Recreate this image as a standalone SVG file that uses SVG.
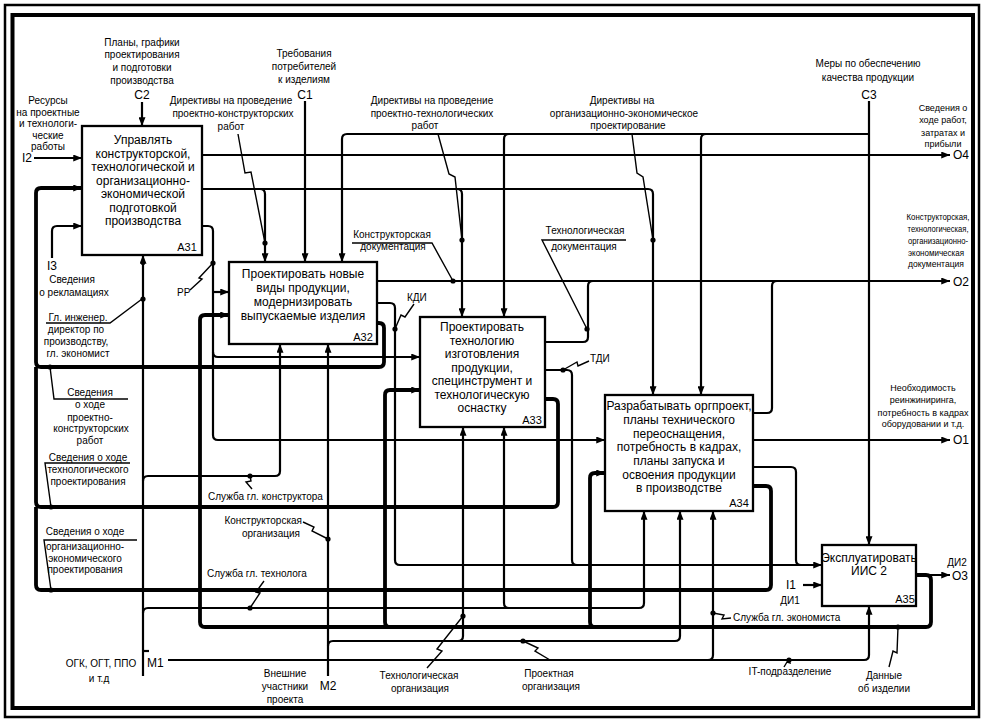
<svg xmlns="http://www.w3.org/2000/svg" width="986" height="722" viewBox="0 0 986 722">
<defs>
<style>
.ln{fill:none;stroke:#000;stroke-width:2.2}
.tk{fill:none;stroke:#000;stroke-width:3.8}
.ld{fill:none;stroke:#000;stroke-width:1.4}
.box{fill:#fff;stroke:#000;stroke-width:2.3}
text{font-family:"Liberation Sans",Arial,sans-serif;fill:#000}
.t{font-size:10px;text-anchor:middle}
.tn{font-size:9px;text-anchor:middle}
.ts{font-size:10px}
.te{font-size:10px;text-anchor:end}
.bt{font-size:12px;text-anchor:middle}
.cd{font-size:12px}
.cdm{font-size:12px;text-anchor:middle}
.bl{font-size:11px;text-anchor:middle}
</style>
<marker id="a" viewBox="0 0 10 8" refX="10" refY="4" markerWidth="9" markerHeight="7" markerUnits="userSpaceOnUse" orient="auto"><path d="M0,0 L10,4 L0,8 z"/></marker>
</defs>
<rect x="0" y="0" width="986" height="722" fill="#fff"/>
<rect x="5" y="5" width="974" height="712" fill="none" stroke="#000" stroke-width="2.5"/>
<rect x="12.5" y="15" width="960.5" height="693" fill="none" stroke="#000" stroke-width="4"/>

<g id="connectors">
<path class="ln" d="M142 102 V126" marker-end="url(#a)"/>
<path class="ln" d="M34 158 H82" marker-end="url(#a)"/>
<path class="ln" d="M52 258 V231 Q52 226 57 226 H82" marker-end="url(#a)"/>
<path class="ln" d="M305 101 V262" marker-end="url(#a)"/>
<path class="ln" d="M202 189 H260 Q265 189 265 194 V262" marker-end="url(#a)"/>
<path class="ln" d="M260 189 H457 Q462 189 462 194 V317" marker-end="url(#a)"/>
<path class="ln" d="M457 189 H648 Q653 189 653 194 V395" marker-end="url(#a)"/>
<path class="ln" d="M869 101 V545" marker-end="url(#a)"/>
<path class="ln" d="M869 134 H347 Q342 134 342 139 V262" marker-end="url(#a)"/>
<path class="ln" d="M509 134 Q504 134 504 139 V317" marker-end="url(#a)"/>
<path class="ln" d="M706 134 Q701 134 701 139 V395" marker-end="url(#a)"/>
<path class="ln" d="M202 155 H950" marker-end="url(#a)"/>
<path class="ln" d="M202 226 H208 Q213 226 213 231 V435 Q213 440 218 440 H605" marker-end="url(#a)"/>
<path class="ln" d="M213 292 H229" marker-end="url(#a)"/>
<path class="ln" d="M213 352 Q213 357 218 357 H420" marker-end="url(#a)"/>
<path class="ln" d="M377 281 H950" marker-end="url(#a)"/>
<path class="ln" d="M545 342 H583 Q588 342 588 337 V286 Q588 281 593 281"/>
<path class="ln" d="M753 413 H767 Q772 413 772 408 V286 Q772 281 777 281"/>
<path class="ln" d="M753 440 H950" marker-end="url(#a)"/>
<path class="ln" d="M377 303 H390 Q395 303 395 308 V560 Q395 565 400 565 H822" marker-end="url(#a)"/>
<path class="ln" d="M545 370 H567 Q572 370 572 375 V560 Q572 565 577 565"/>
<path class="ln" d="M753 467 H791 Q796 467 796 472 V560 Q796 565 801 565"/>
<path class="ln" d="M803 585 H822" marker-end="url(#a)"/>
<path class="ln" d="M916 575 H950" marker-end="url(#a)"/>
<path class="ln" d="M143 676 V255" marker-end="url(#a)"/>
<path class="ln" d="M143 651 H149"/>
<path class="ln" d="M143 481 Q143 476 148 476 H275 Q280 476 280 471 V344" marker-end="url(#a)"/>
<path class="ln" d="M143 613 Q143 608 148 608 H639 Q644 608 644 603 V511" marker-end="url(#a)"/>
<path class="ln" d="M509 608 Q504 608 504 603 V427" marker-end="url(#a)"/>
<path class="ln" d="M168 660 H864 Q869 660 869 655 V606" marker-end="url(#a)"/>
<path class="ln" d="M708 660 Q713 660 713 655 V511" marker-end="url(#a)"/>
<path class="ln" d="M328 676 V344" marker-end="url(#a)"/>
<path class="ln" d="M328 646 Q328 641 333 641 H675 Q680 641 680 636 V511" marker-end="url(#a)"/>
<path class="ln" d="M458 641 Q463 641 463 636 V427" marker-end="url(#a)"/>
<path class="tk" d="M916 575 H926 Q931 575 931 580 V622 Q931 627 926 627 H205 Q200 627 200 622 V320 Q200 315 205 315 H229" marker-end="url(#a)"/>
<path class="tk" d="M390 627 Q385 627 385 622 V395 Q385 390 390 390 H420" marker-end="url(#a)"/>
<path class="tk" d="M595 627 Q590 627 590 622 V478 Q590 473 595 473 H605" marker-end="url(#a)"/>
<path class="tk" d="M377 323 H379 Q384 323 384 328 V362 Q384 367 379 367 H41 Q36 367 36 362 V193 Q36 188 41 188 H82" marker-end="url(#a)"/>
<path class="tk" d="M545 399 H553 Q558 399 558 404 V502 Q558 507 553 507 H41 Q36 507 36 502 V367"/>
<path class="tk" d="M753 486 H766 Q771 486 771 491 V585 Q771 590 766 590 H41 Q36 590 36 585 V507"/>
<polyline class="ld" points="238,134 245,173 251,172 265,243"/>
<polyline class="ld" points="438,134 449,174 455,177 462,240"/>
<polyline class="ld" points="632,134 637,173 643,177 653,240"/>
<polyline class="ld" points="352,243 432,243 453,281"/>
<polyline class="ld" points="626,240 542,240 587,329"/>
<polyline class="ld" points="414,304 405,317 401,315 395,329"/>
<polyline class="ld" points="589,361 578,366 577,362 563,370"/>
<polyline class="ld" points="190,290 202,279 199,278 213,263"/>
<polyline class="ld" points="46,323 110,323 142,299"/>
<polyline class="ld" points="128,399 54,399 50,367"/>
<polyline class="ld" points="130,463 45,463 51,507"/>
<polyline class="ld" points="137,540 44,540 51,590"/>
<polyline class="ld" points="252,489 246,482 251,481 250,476"/>
<polyline class="ld" points="303,522 314,527 312,531 328,539"/>
<polyline class="ld" points="264,581 256,592 260,593 250,608"/>
<polyline class="ld" points="427,668 442,651 437,649 463,616"/>
<polyline class="ld" points="550,660 535,651 538,648 523,641"/>
<polyline class="ld" points="731,618 722,619 724,615 713,613"/>
<polyline class="ld" points="784,667 787,662 790,663 789,660"/>
<polyline class="ld" points="889,667 893,651 897,653 898,627"/>
<g fill="#000">
<circle cx="265" cy="243" r="2.6"/><circle cx="462" cy="240" r="2.6"/><circle cx="653" cy="240" r="2.6"/>
<circle cx="453" cy="281" r="2.6"/><circle cx="587" cy="329" r="2.6"/><circle cx="395" cy="329" r="2.6"/>
<circle cx="563" cy="370" r="2.6"/><circle cx="213" cy="263" r="2.6"/><circle cx="143" cy="263" r="2.2"/>
<circle cx="143" cy="299" r="2.6"/><circle cx="50" cy="367" r="2.6"/><circle cx="51" cy="507" r="2.6"/>
<circle cx="51" cy="590" r="2.6"/><circle cx="250" cy="476" r="2.6"/><circle cx="328" cy="539" r="2.6"/>
<circle cx="250" cy="608" r="2.6"/><circle cx="463" cy="616" r="2.6"/><circle cx="523" cy="641" r="2.6"/>
<circle cx="713" cy="613" r="2.6"/><circle cx="789" cy="660" r="2.6"/><circle cx="898" cy="627" r="2.6"/>
</g>
</g>

<g id="A31">
<rect class="box" x="82" y="126" width="120" height="129"/>
<text class="bt" x="143" y="144">Управлять</text>
<text class="bt" x="143" y="157.5">конструкторской,</text>
<text class="bt" x="143" y="171">технологической и</text>
<text class="bt" x="143" y="184.5">организационно-</text>
<text class="bt" x="143" y="198">экономической</text>
<text class="bt" x="143" y="211.5">подготовкой</text>
<text class="bt" x="143" y="225">производства</text>
<text class="bl" x="187" y="251">A31</text>
</g>
<g id="A32">
<rect class="box" x="229" y="262" width="148" height="82"/>
<text class="bt" x="303" y="278">Проектировать новые</text>
<text class="bt" x="303" y="292">виды продукции,</text>
<text class="bt" x="303" y="306">модернизировать</text>
<text class="bt" x="303" y="320">выпускаемые изделия</text>
<text class="bl" x="363" y="341">A32</text>
</g>
<g id="A33">
<rect class="box" x="420" y="317" width="125" height="110"/>
<text class="bt" x="482" y="331">Проектировать</text>
<text class="bt" x="482" y="344.5">технологию</text>
<text class="bt" x="482" y="358">изготовления</text>
<text class="bt" x="482" y="371.5">продукции,</text>
<text class="bt" x="482" y="385">специнструмент и</text>
<text class="bt" x="482" y="398.5">технологическую</text>
<text class="bt" x="482" y="412">оснастку</text>
<text class="bl" x="532" y="424">A33</text>
</g>
<g id="A34">
<rect class="box" x="605" y="395" width="148" height="116"/>
<text class="bt" x="679" y="410">Разрабатывать оргпроект,</text>
<text class="bt" x="679" y="424">планы технического</text>
<text class="bt" x="679" y="437.5">переоснащения,</text>
<text class="bt" x="679" y="451">потребность в кадрах,</text>
<text class="bt" x="679" y="465">планы запуска и</text>
<text class="bt" x="679" y="479">освоения продукции</text>
<text class="bt" x="679" y="492">в производстве</text>
<text class="bl" x="739" y="507">A34</text>
</g>
<g id="A35">
<rect class="box" x="822" y="545" width="94" height="61"/>
<text class="bt" x="869" y="562">Эксплуатировать</text>
<text class="bt" x="869" y="575">ИИС 2</text>
<text class="bl" x="905" y="603">A35</text>
</g>

<g id="labels">
<text class="t" x="142" y="46">Планы, графики</text>
<text class="t" x="142" y="58">проектирования</text>
<text class="t" x="142" y="71">и подготовки</text>
<text class="t" x="142" y="84">производства</text>
<text class="cdm" x="142" y="99">C2</text>
<text class="t" x="304" y="57">Требования</text>
<text class="t" x="304" y="70">потребителей</text>
<text class="t" x="304" y="83">к изделиям</text>
<text class="cdm" x="305" y="99">C1</text>
<text class="t" x="48" y="104">Ресурсы</text>
<text class="t" x="48" y="116">на проектные</text>
<text class="t" x="48" y="127">и технологи-</text>
<text class="t" x="48" y="139">ческие</text>
<text class="t" x="48" y="150">работы</text>
<text class="cd" x="22" y="162">I2</text>
<text class="t" x="231" y="104">Директивы на проведение</text>
<text class="t" x="233" y="117">проектно-конструкторских</text>
<text class="t" x="231" y="130">работ</text>
<text class="t" x="432" y="104">Директивы на проведение</text>
<text class="t" x="432" y="117">проектно-технологических</text>
<text class="t" x="425" y="129">работ</text>
<text class="t" x="622" y="104">Директивы на</text>
<text class="t" x="624" y="117">организационно-экономическое</text>
<text class="t" x="628" y="129">проектирование</text>
<text class="t" x="868" y="67">Меры по обеспечению</text>
<text class="t" x="868" y="81">качества продукции</text>
<text class="cdm" x="869" y="99">C3</text>
<text class="tn" x="943" y="111">Сведения о</text>
<text class="tn" x="943" y="123">ходе работ,</text>
<text class="tn" x="943" y="136">затратах и</text>
<text class="tn" x="943" y="147">прибыли</text>
<text class="cd" x="953" y="159">O4</text>
<text class="tn" x="938" y="220" textLength="63" lengthAdjust="spacingAndGlyphs">Конструкторская,</text>
<text class="tn" x="938" y="232" textLength="61" lengthAdjust="spacingAndGlyphs">технологическая,</text>
<text class="tn" x="938" y="244" textLength="60" lengthAdjust="spacingAndGlyphs">организационно-</text>
<text class="tn" x="936" y="256" textLength="56" lengthAdjust="spacingAndGlyphs">экономическая</text>
<text class="tn" x="936" y="267" textLength="56" lengthAdjust="spacingAndGlyphs">документация</text>
<text class="cd" x="953" y="286">O2</text>
<text class="tn" x="923" y="391">Необходимость</text>
<text class="tn" x="923" y="403">реинжиниринга,</text>
<text class="tn" x="923" y="416">потребность в кадрах</text>
<text class="tn" x="923" y="427">оборудовании и т.д.</text>
<text class="cd" x="953" y="444">O1</text>
<text class="t" x="957" y="566">ДИ2</text>
<text class="cd" x="952" y="580">O3</text>
<text class="cd" x="786" y="589">I1</text>
<text class="t" x="790" y="604">ДИ1</text>
<text class="t" x="392" y="238">Конструкторская</text>
<text class="t" x="393" y="250">документация</text>
<text class="t" x="585" y="234">Технологическая</text>
<text class="t" x="584" y="250">документация</text>
<text class="ts" x="407" y="301">КДИ</text>
<text class="ts" x="590" y="362">ТДИ</text>
<text class="ts" x="177" y="296">РР</text>
<text class="cd" x="47" y="270">I3</text>
<text class="t" x="72" y="283">Сведения</text>
<text class="t" x="74" y="296">о рекламациях</text>
<text class="t" x="78" y="321">Гл. инженер.</text>
<text class="t" x="76" y="333">директор по</text>
<text class="t" x="76" y="345">производству,</text>
<text class="t" x="78" y="357">гл. экономист</text>
<text class="t" x="90" y="396">Сведения</text>
<text class="t" x="90" y="408">о ходе</text>
<text class="t" x="90" y="421">проектно-</text>
<text class="t" x="91" y="432">конструкторских</text>
<text class="t" x="90" y="444">работ</text>
<text class="t" x="88" y="461">Сведения о ходе</text>
<text class="t" x="88" y="473">технологического</text>
<text class="t" x="88" y="485">проектирования</text>
<text class="t" x="85" y="535">Сведения о ходе</text>
<text class="t" x="85" y="550">организационно-</text>
<text class="t" x="85" y="562">экономического</text>
<text class="t" x="85" y="573">проектирования</text>
<text class="t" x="101" y="667">ОГК, ОГТ, ППО</text>
<text class="t" x="99" y="682">и т.д</text>
<text class="cd" x="147" y="667">M1</text>
<text class="ts" x="208" y="500">Служба гл. конструктора</text>
<text class="te" x="302" y="524">Конструкторская</text>
<text class="te" x="300" y="537">организация</text>
<text class="ts" x="207" y="577">Служба гл. технолога</text>
<text class="t" x="285" y="677">Внешние</text>
<text class="t" x="285" y="690">участники</text>
<text class="t" x="285" y="703">проекта</text>
<text class="cdm" x="328" y="690">M2</text>
<text class="t" x="419" y="679">Технологическая</text>
<text class="t" x="420" y="692">организация</text>
<text class="t" x="549" y="677">Проектная</text>
<text class="t" x="551" y="690">организация</text>
<text class="ts" x="733" y="621">Служба гл. экономиста</text>
<text class="t" x="790" y="675">IT-подразделение</text>
<text class="t" x="884" y="679">Данные</text>
<text class="t" x="884" y="692">об изделии</text>
</g>
</svg>
